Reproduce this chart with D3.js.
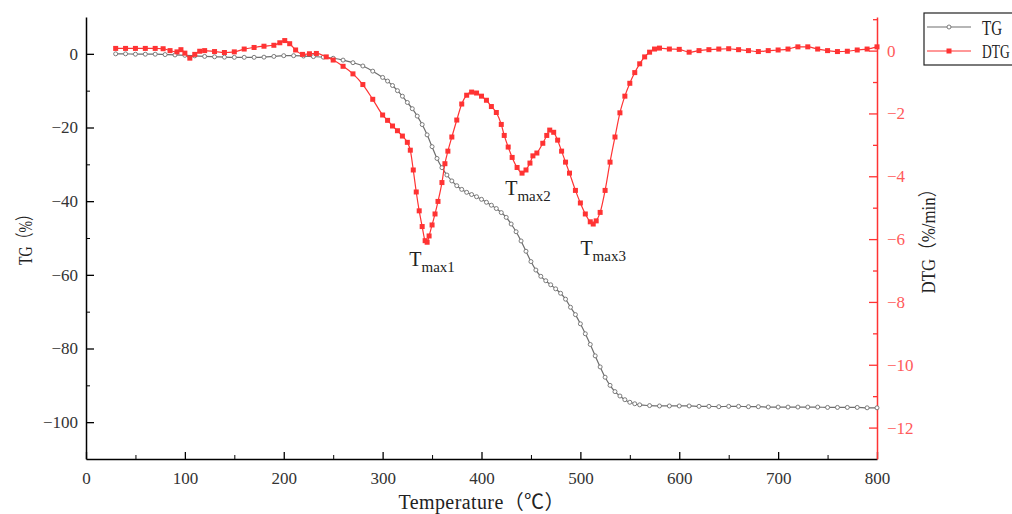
<!DOCTYPE html>
<html>
<head>
<meta charset="utf-8">
<script src="https://cdn.jsdelivr.net/npm/d3@7"></script>
<style>
  html, body { margin: 0; padding: 0; background: #fff; }
  svg { display: block; }
  text { font-family: "Liberation Serif", "Noto Sans CJK SC", serif; }
</style>
</head>
<body>
<svg id="chart" width="1012" height="514"></svg>
<script>
// ---- data ----
const tgTemp = [30,40,50,60,70,80,90,100,110,120,130,140,150,160,170,180,190,200,210,220,230,240,250,260,270,280,290,300,
  305,310,315,320,325,330,335,340,345,350,355,360,365,370,375,380,385,390,395,400,405,410,415,420,425,430,435,440,445,450,
  455,460,465,470,475,480,485,490,495,500,505,510,515,520,525,530,535,540,545,550,555,560,
  570,580,590,600,610,620,630,640,650,660,670,680,690,700,710,720,730,740,750,760,770,780,790,800];
const tgValues = [0.0,0.0,-0.1,-0.1,-0.1,-0.2,-0.3,-0.4,-0.55,-0.7,-0.8,-0.9,-0.95,-0.95,-0.95,-0.9,-0.7,-0.5,-0.5,-0.6,-0.75,-0.9,-1.2,-1.7,-2.4,-3.3,-4.7,-6.4,
  -7.4,-8.6,-10.0,-11.5,-13.2,-14.9,-16.9,-19.2,-22.0,-25.2,-28.4,-30.9,-32.9,-34.5,-35.8,-36.8,-37.6,-38.2,-38.8,-39.5,-40.3,-41.1,-42.0,-43.1,-44.4,-46.2,-48.3,-50.8,-53.6,-56.4,
  -58.7,-60.4,-61.6,-62.7,-63.8,-65.0,-66.6,-68.8,-70.8,-73.3,-76.0,-78.9,-82.0,-85.0,-87.8,-90.0,-91.7,-92.9,-93.9,-94.6,-95.0,-95.3,
  -95.5,-95.6,-95.6,-95.6,-95.6,-95.7,-95.7,-95.8,-95.7,-95.7,-95.8,-95.8,-95.9,-95.9,-95.9,-95.9,-95.9,-95.9,-96.0,-96.0,-96.0,-96.0,-96.1,-96.1];

const dtgTemp = [30,40,50,60,70,78,85,92,96,100,105,110,115,120,130,140,150,160,170,180,190,196,201,206,212,219,226,233,243,250,260,270,280,290,300,
  305,310,315,320,325,328,331,334,337,340,343,345,347,350,353,356,360,363,366,370,375,380,385,390,395,400,405,410,415,420,423,427,431,436,441,445,449,452,456,
  462,466,469,473,477,481,485,489,495,500,505,510,513,516,520,525,530,535,540,545,550,555,560,565,570,575,580,
  590,600,610,620,630,640,650,660,670,680,690,700,710,720,730,740,750,760,770,780,790,800];
const dtgValues = [0.07,0.07,0.07,0.07,0.07,0.06,0.0,-0.04,0.03,-0.08,-0.24,-0.12,-0.02,0.0,-0.03,-0.06,-0.04,0.05,0.1,0.14,0.17,0.25,0.32,0.22,0.02,-0.12,-0.1,-0.09,-0.2,-0.3,-0.5,-0.74,-1.08,-1.55,-2.05,
  -2.22,-2.4,-2.55,-2.72,-2.92,-3.17,-3.8,-4.5,-5.1,-5.6,-6.05,-6.1,-5.9,-5.55,-5.2,-4.8,-4.2,-3.6,-3.2,-2.75,-2.21,-1.7,-1.42,-1.32,-1.35,-1.45,-1.58,-1.78,-1.97,-2.35,-2.7,-3.07,-3.4,-3.72,-3.9,-3.8,-3.58,-3.35,-3.26,
  -2.95,-2.7,-2.53,-2.6,-2.85,-3.2,-3.55,-3.9,-4.45,-4.85,-5.2,-5.45,-5.52,-5.42,-5.15,-4.45,-3.55,-2.75,-1.98,-1.45,-1.04,-0.7,-0.42,-0.2,-0.05,0.05,0.08,
  0.05,0.04,-0.05,0.0,0.03,0.05,0.06,0.03,0.0,-0.03,0.0,0.02,0.05,0.12,0.12,0.05,0.0,-0.03,-0.02,0.02,0.05,0.12];

const xTicks = [0,100,200,300,400,500,600,700,800];
const tgTicks = [0,-20,-40,-60,-80,-100];
const dtgTicks = [0,-2,-4,-6,-8,-10,-12];
const peakLabels = [
  {sub: "max1", t: 327, v: -6.85},
  {sub: "max2", t: 424, v: -4.6},
  {sub: "max3", t: 500, v: -6.5}
];

// ---- layout ----
const svg = d3.select("#chart");
const mLeft = 86, mRight = 877, mTop = 17, mBottom = 459;
const x = d3.scaleLinear().domain([0, 800]).range([mLeft, mRight]);
const yL = d3.scaleLinear().domain([-110, 10]).range([mBottom, mTop]);
const yR = d3.scaleLinear().domain([-13, 1.07]).range([mBottom, mTop]);
const red = "#ff3333", redText = "#ff5a5a", gray = "#6e6e6e";

function minorVals(major) {
  const out = [];
  for (let i = 0; i < major.length - 1; i++) out.push((major[i] + major[i+1]) / 2);
  return out;
}

// bottom axis
const gx = svg.append("g").attr("transform", `translate(0,${mBottom})`)
  .call(d3.axisBottom(x).tickValues(xTicks).tickSize(-7).tickSizeOuter(0).tickPadding(13).tickFormat(d3.format("d")));
svg.append("g").attr("transform", `translate(0,${mBottom})`)
  .call(d3.axisBottom(x).tickValues(minorVals(xTicks)).tickSize(-4).tickSizeOuter(0).tickFormat(""))
  .select(".domain").remove();
gx.selectAll("text").attr("font-size", 17).attr("fill", "#333").attr("font-family", "Liberation Serif");
gx.select(".domain").attr("stroke", "#000").attr("stroke-width", 1.5);
gx.selectAll(".tick line").attr("stroke-width", 1.3);

// left axis
const gl = svg.append("g").attr("transform", `translate(${mLeft},0)`)
  .call(d3.axisLeft(yL).tickValues(tgTicks).tickSize(-8).tickSizeOuter(0).tickPadding(8));
svg.append("g").attr("transform", `translate(${mLeft},0)`)
  .call(d3.axisLeft(yL).tickValues([-10,-30,-50,-70,-90]).tickSize(-4).tickSizeOuter(0).tickFormat(""))
  .select(".domain").remove();
gl.selectAll("text").attr("font-size", 17).attr("fill", "#333").attr("font-family", "Liberation Serif");
gl.select(".domain").attr("stroke", "#000").attr("stroke-width", 1.5);
gl.selectAll(".tick line").attr("stroke-width", 1.3);

// right axis
const gr = svg.append("g").attr("transform", `translate(${mRight},0)`)
  .call(d3.axisRight(yR).tickValues(dtgTicks).tickSize(-8).tickSizeOuter(0).tickPadding(10));
const grm = svg.append("g").attr("transform", `translate(${mRight},0)`)
  .call(d3.axisRight(yR).tickValues([1,-1,-3,-5,-7,-9,-11]).tickSize(-4).tickSizeOuter(0).tickFormat(""));
grm.select(".domain").remove();
grm.selectAll(".tick line").attr("stroke", red).attr("stroke-width", 1.3);
gr.selectAll("text").attr("font-size", 17).attr("fill", redText).attr("font-family", "Liberation Serif");
gr.select(".domain").attr("stroke", red).attr("stroke-width", 1.5);
gr.selectAll(".tick line").attr("stroke", red).attr("stroke-width", 1.3);

// axis titles
svg.append("text").attr("x", (mLeft + mRight) / 2).attr("y", 509).attr("text-anchor", "middle")
  .attr("font-size", 20).attr("fill", "#222").attr("textLength", 166).attr("lengthAdjust", "spacing")
  .text("Temperature（℃）");
svg.append("text").attr("transform", "translate(25,236) rotate(-90)").attr("text-anchor", "middle")
  .attr("dy", "0.35em").attr("font-size", 19).attr("fill", "#222").attr("textLength", 58)
  .attr("lengthAdjust", "spacingAndGlyphs").text("TG（%）");
svg.append("text").attr("transform", "translate(928,237) rotate(-90)").attr("text-anchor", "middle")
  .attr("dy", "0.35em").attr("font-size", 19).attr("fill", "#222").attr("textLength", 113)
  .attr("lengthAdjust", "spacingAndGlyphs").text("DTG（%/min）");

// ---- series ----
const tgData = tgTemp.map((t, i) => ({t, v: tgValues[i]}));
const dtgData = dtgTemp.map((t, i) => ({t, v: dtgValues[i]}));

svg.append("path").datum(tgData)
  .attr("fill", "none").attr("stroke", gray).attr("stroke-width", 1.2)
  .attr("d", d3.line().x(d => x(d.t)).y(d => yL(d.v)).curve(d3.curveMonotoneX));
svg.append("g").selectAll("circle").data(tgData).join("circle")
  .attr("cx", d => x(d.t)).attr("cy", d => yL(d.v)).attr("r", 2)
  .attr("fill", "#fff").attr("stroke", gray).attr("stroke-width", 0.9);

svg.append("path").datum(dtgData)
  .attr("fill", "none").attr("stroke", red).attr("stroke-width", 1.2)
  .attr("d", d3.line().x(d => x(d.t)).y(d => yR(d.v)).curve(d3.curveMonotoneX));
const sq = 5;
svg.append("g").selectAll("rect").data(dtgData).join("rect")
  .attr("x", d => x(d.t) - sq / 2).attr("y", d => yR(d.v) - sq / 2)
  .attr("width", sq).attr("height", sq).attr("fill", red);

// peak labels
peakLabels.forEach(p => {
  const tx = svg.append("text").attr("x", x(p.t)).attr("y", yR(p.v)).attr("fill", "#222");
  tx.append("tspan").attr("font-size", 20).text("T");
  tx.append("tspan").attr("font-size", 15).attr("dy", 6).attr("dx", 0).text(p.sub);
});

// legend
const lg = svg.append("g");
lg.append("rect").attr("x", 924).attr("y", 13).attr("width", 100).attr("height", 52)
  .attr("fill", "#fff").attr("stroke", "#222").attr("stroke-width", 1.2);
lg.append("line").attr("x1", 927).attr("x2", 971).attr("y1", 27).attr("y2", 27).attr("stroke", gray).attr("stroke-width", 1.2);
lg.append("circle").attr("cx", 949).attr("cy", 27).attr("r", 2).attr("fill", "#fff").attr("stroke", gray).attr("stroke-width", 0.9);
lg.append("line").attr("x1", 927).attr("x2", 971).attr("y1", 51).attr("y2", 51).attr("stroke", red).attr("stroke-width", 1.2);
lg.append("rect").attr("x", 949 - sq / 2).attr("y", 51 - sq / 2).attr("width", sq).attr("height", sq).attr("fill", red);
lg.append("text").attr("transform", "translate(982,35) scale(1,1.35)").attr("font-size", 15).attr("fill", "#222").text("TG");
lg.append("text").attr("transform", "translate(982,58) scale(1,1.35)").attr("font-size", 13.5).attr("fill", "#222").text("DTG");
</script>
</body>
</html>
